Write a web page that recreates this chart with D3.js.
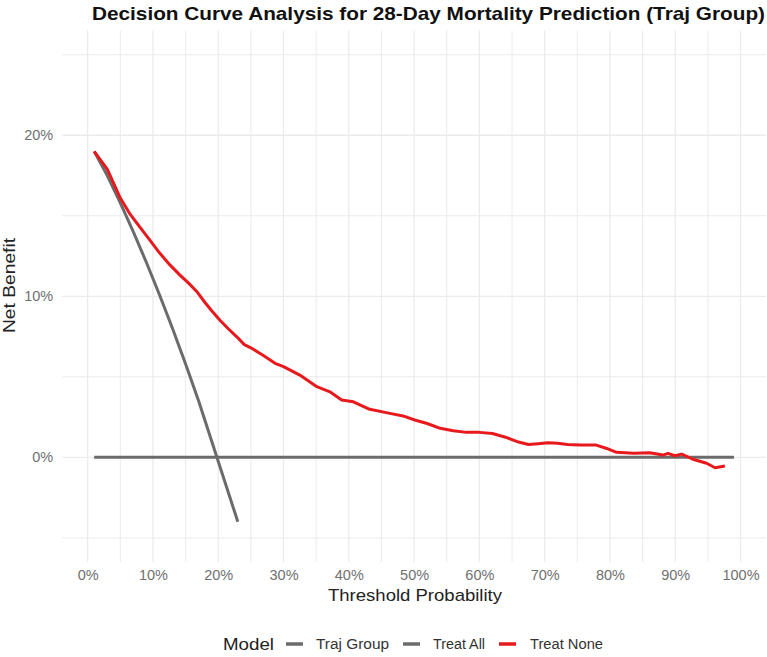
<!DOCTYPE html>
<html><head><meta charset="utf-8">
<script src="https://cdn.jsdelivr.net/npm/d3@7"></script>
<style>body{margin:0;background:#fff}svg{display:block;font-family:"Liberation Sans",Arial,sans-serif}</style>
</head><body><svg id="c" width="767" height="657"></svg>
<script>
const title = "Decision Curve Analysis for 28-Day Mortality Prediction (Traj Group)";
const xLabel = "Threshold Probability";
const yLabel = "Net Benefit";
const legendTitle = "Model";
const legendNames = ["Traj Group", "Treat All", "Treat None"];
const legendColors = ["#6b6b6b", "#6b6b6b", "#e8191c"];
const xTicks = [0,0.1,0.2,0.3,0.4,0.5,0.6,0.7,0.8,0.9,1];
const xMinor = [0.05,0.15,0.25,0.35,0.45,0.55,0.65,0.75,0.85,0.95];
const yTicks = [0,0.1,0.2];
const yMinor = [-0.05,0.05,0.15,0.25];

// red curve (model)
const modelT = [0.01,0.03,0.05,0.065,0.08,0.095,0.11,0.126,0.141,0.155,0.167,0.18,0.19,0.203,0.215,0.228,0.24,0.25,0.268,0.287,0.30,0.325,0.351,0.371,0.389,0.407,0.432,0.463,0.483,0.501,0.52,0.54,0.56,0.58,0.60,0.62,0.64,0.66,0.675,0.69,0.705,0.72,0.735,0.754,0.779,0.795,0.81,0.836,0.861,0.881,0.889,0.899,0.91,0.927,0.948,0.961,0.976];
const modelNB = [0.190,0.179,0.161,0.151,0.143,0.135,0.127,0.1195,0.1133,0.108,0.103,0.096,0.091,0.085,0.080,0.075,0.070,0.068,0.0635,0.0584,0.0563,0.0511,0.0439,0.0407,0.0356,0.0345,0.0298,0.0273,0.0257,0.0232,0.021,0.018,0.0165,0.0155,0.0155,0.0148,0.0125,0.0095,0.008,0.0085,0.009,0.0088,0.008,0.0076,0.0076,0.0055,0.0031,0.0025,0.0029,0.0014,0.0025,0.0010,0.0020,-0.0012,-0.0037,-0.0065,-0.0054];
// steep grey line
const allT = [0.01,0.03,0.05,0.07,0.09,0.11,0.13,0.15,0.17,0.19,0.21,0.23];
const allNB = [0.190,0.175,0.158,0.140,0.121,0.101,0.080,0.058,0.035,0.010,-0.015,-0.040];
// horizontal grey line
const noneT = [0.01,0.99];
const noneNB = [0,0];

const svg = d3.select("#c");
const L=62.2,R=766,T=30.6,B=562;
const x = d3.scaleLinear().domain([-0.039,1.039]).range([L,R]);
const y = d3.scaleLinear().domain([-0.065,0.265]).range([B,T]);
const grid="#ebebeb";
const g = svg.append("g");
g.selectAll(".xm").data(xMinor).join("line").attr("x1",d=>x(d)).attr("x2",d=>x(d)).attr("y1",T).attr("y2",B).attr("stroke",grid).attr("stroke-width",1);
g.selectAll(".ym").data(yMinor).join("line").attr("y1",d=>y(d)).attr("y2",d=>y(d)).attr("x1",L).attr("x2",R).attr("stroke",grid).attr("stroke-width",1);
g.selectAll(".xM").data(xTicks).join("line").attr("x1",d=>x(d)).attr("x2",d=>x(d)).attr("y1",T).attr("y2",B).attr("stroke",grid).attr("stroke-width",1.3);
g.selectAll(".yM").data(yTicks).join("line").attr("y1",d=>y(d)).attr("y2",d=>y(d)).attr("x1",L).attr("x2",R).attr("stroke",grid).attr("stroke-width",1.3);

const fmt = d3.format(".0%");
const xAxis = svg.append("g").attr("transform",`translate(0,${B})`).call(d3.axisBottom(x).tickValues(xTicks).tickFormat(fmt).tickSize(0).tickPadding(8));
const yAxis = svg.append("g").attr("transform",`translate(${L},0)`).call(d3.axisLeft(y).tickValues(yTicks).tickFormat(fmt).tickSize(0).tickPadding(9));
[xAxis,yAxis].forEach(a=>{a.select(".domain").remove();a.selectAll("text").attr("fill","#707070").style("font-size","14.5px").style("font-family","'Liberation Sans',Arial,sans-serif");});

const line = d3.line().x(d=>x(d[0])).y(d=>y(d[1]));
const series = [
  {pts: d3.zip(noneT,noneNB), color:"#6b6b6b"},
  {pts: d3.zip(allT,allNB), color:"#6b6b6b"},
  {pts: d3.zip(modelT,modelNB), color:"#e8191c"}
];
svg.selectAll(".s").data(series).join("path").attr("d",d=>line(d.pts)).attr("fill","none").attr("stroke",d=>d.color).attr("stroke-width",3).attr("stroke-linejoin","round").attr("stroke-linecap","butt");

function txt(sel, len){ return sel.attr("textLength",len).attr("lengthAdjust","spacingAndGlyphs"); }
txt(svg.append("text").attr("x",428.5).attr("y",20).attr("text-anchor","middle").style("font-weight","bold").style("font-size","19px").attr("fill","#111").text(title),673);
txt(svg.append("text").attr("x",415).attr("y",601).attr("text-anchor","middle").style("font-size","17px").attr("fill","#222").text(xLabel),174);
txt(svg.append("text").attr("transform","translate(15,285.5) rotate(-90)").attr("text-anchor","middle").style("font-size","17px").attr("fill","#222").text(yLabel),95);

const lg = svg.append("g").attr("transform","translate(0,644)");
txt(lg.append("text").attr("x",223).attr("y",6).style("font-size","17px").attr("fill","#222").text(legendTitle),51);
const keyX=[286,403,499];
const textX=[316,433,530];
const textW=[73,52,73];
legendNames.forEach((n,i)=>{
  lg.append("line").attr("x1",keyX[i]).attr("x2",keyX[i]+17).attr("y1",0).attr("y2",0).attr("stroke",legendColors[i]).attr("stroke-width",3.5);
  txt(lg.append("text").attr("x",textX[i]).attr("y",5).style("font-size","14px").attr("fill","#333").text(n),textW[i]);
});
</script></body></html>
